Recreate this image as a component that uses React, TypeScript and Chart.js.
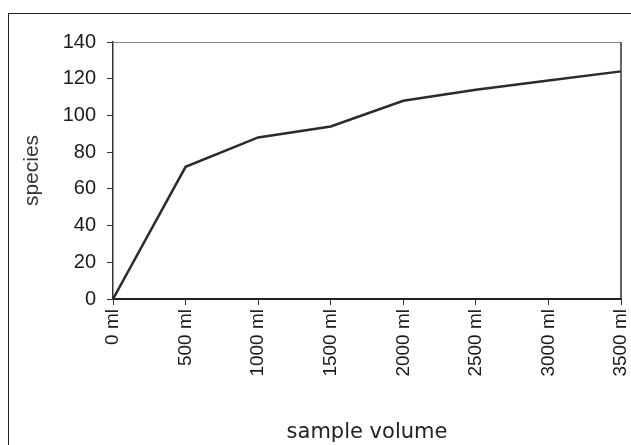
import React, { useEffect, useRef } from "react";
import { Chart, registerables } from "chart.js";

Chart.register(...registerables);

const categories: string[] = ["0 ml", "500 ml", "1000 ml", "1500 ml", "2000 ml", "2500 ml", "3000 ml", "3500 ml"];
const speciesValues: number[] = [0, 72, 88, 94, 108, 114, 119, 124];
const yTickMin = 0;
const yTickMax = 140;
const yTickStep = 20;

const plotFrame = {
  id: "plotFrame",
  afterDatasetsDraw(chart: any) {
    const { ctx, chartArea } = chart;
    ctx.save();
    ctx.strokeStyle = "#8a8a8a";
    ctx.lineWidth = 1;
    ctx.beginPath();
    ctx.moveTo(chartArea.left, chartArea.top + 0.5);
    ctx.lineTo(chartArea.right, chartArea.top + 0.5);
    ctx.stroke();
    ctx.strokeStyle = "#333";
    ctx.lineWidth = 1.5;
    ctx.beginPath();
    ctx.moveTo(chartArea.right, chartArea.top);
    ctx.lineTo(chartArea.right, chartArea.bottom);
    ctx.stroke();
    ctx.restore();
  },
};

export default function App() {
  const ref = useRef<HTMLCanvasElement | null>(null);
  useEffect(() => {
    if (!ref.current) return;
    const chart = new Chart(ref.current, {
      type: "line",
      data: {
        labels: categories,
        datasets: [
          {
            label: "species",
            data: speciesValues,
            borderColor: "#2b2b2b",
            borderWidth: 2.5,
            pointRadius: 0,
            tension: 0,
            fill: false,
          },
        ],
      },
      options: {
        animation: false,
        responsive: false,
        devicePixelRatio: 1,
        layout: { padding: { top: 42, right: 10, left: 0, bottom: 0 } },
        plugins: { legend: { display: false }, tooltip: { enabled: false } },
        scales: {
          x: {
            type: "category",
            offset: false,
            grid: { display: true, drawOnChartArea: false, drawTicks: true, tickLength: 6, color: "#333" },
            border: { display: true, color: "#222", width: 2 },
            ticks: {
              minRotation: 90,
              maxRotation: 90,
              autoSkip: false,
              padding: 4,
              color: "#1a1a1a",
              font: { family: "'Liberation Sans', Arial, sans-serif", size: 19 },
            },
            title: {
              display: true,
              text: "sample volume",
              color: "#222",
              font: { family: "'DejaVu Sans', sans-serif", size: 21 },
              padding: { top: 3, bottom: 0 },
            },
            afterFit(scale: any) {
              scale.height = 146;
              scale.paddingLeft = 0;
              scale.paddingRight = 0;
            },
          },
          y: {
            min: yTickMin,
            max: yTickMax,
            grid: { display: true, drawOnChartArea: false, drawTicks: true, tickLength: 6, color: "#333" },
            border: { display: true, color: "#333", width: 1.5 },
            ticks: {
              stepSize: yTickStep,
              padding: 11,
              color: "#1a1a1a",
              font: { family: "'Liberation Sans', Arial, sans-serif", size: 20 },
            },
            title: {
              display: true,
              text: "species",
              color: "#333",
              font: { family: "'Liberation Sans', Arial, sans-serif", size: 21 },
              padding: { top: 20, bottom: 0 },
            },
            afterFit(scale: any) {
              scale.width = 113;
              scale.paddingTop = 0;
              scale.paddingBottom = 0;
            },
          },
        },
      },
      plugins: [plotFrame],
    });
    return () => chart.destroy();
  }, []);

  return (
    <div style={{ position: "fixed", left: 0, top: 0, width: 631, height: 445, overflow: "hidden", background: "#fff" }}>
      <div
        style={{
          position: "absolute",
          left: 8,
          top: 13,
          width: 660,
          height: 520,
          border: "1.5px solid #222",
          boxSizing: "border-box",
        }}
      />
      <canvas ref={ref} width={631} height={445} style={{ position: "absolute", left: 0, top: 0 }} />
    </div>
  );
}
